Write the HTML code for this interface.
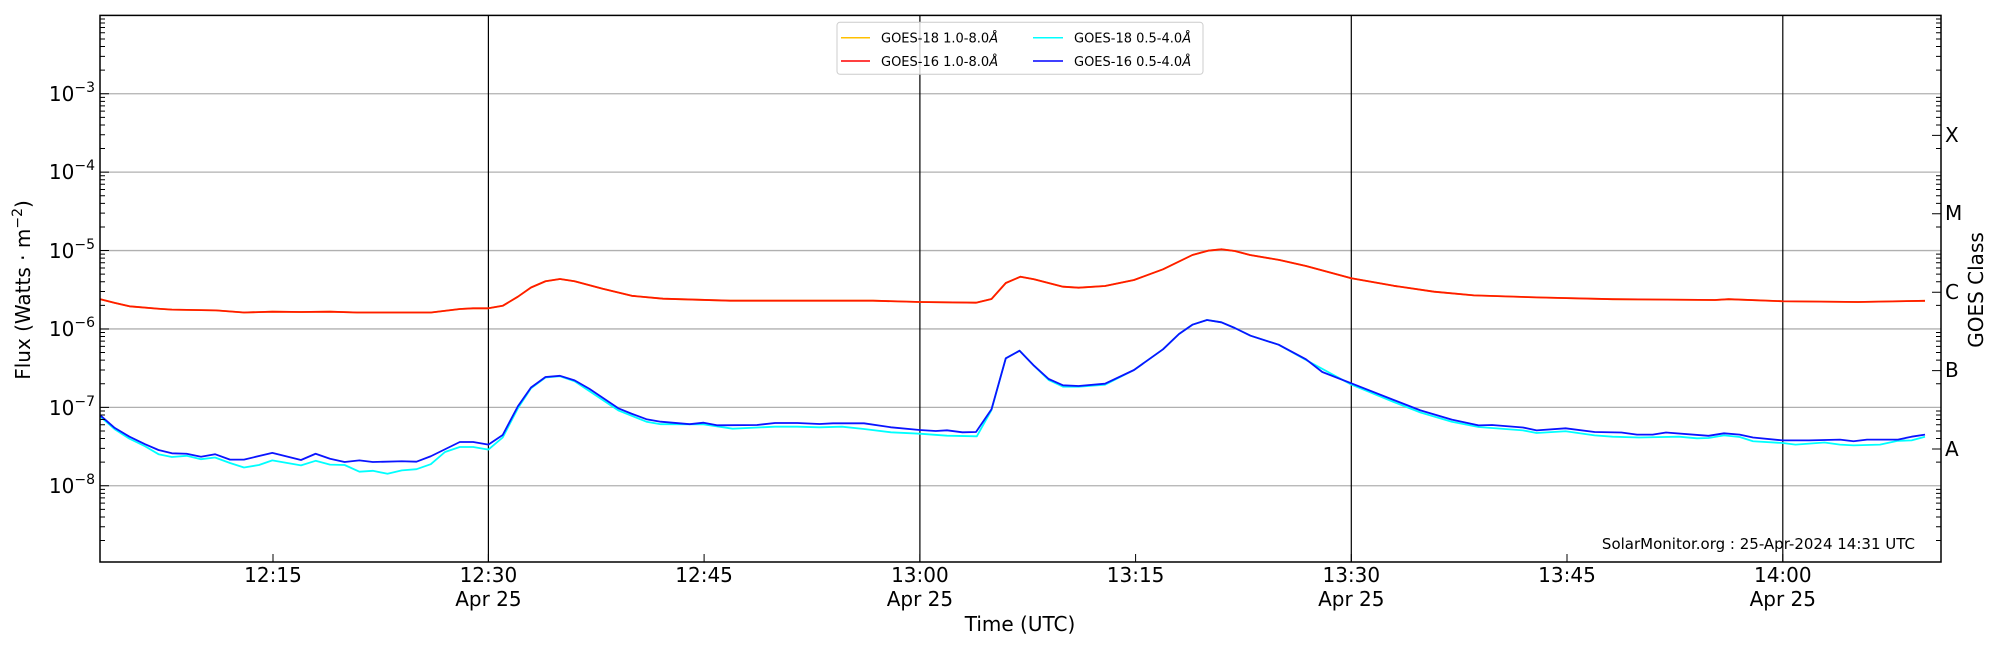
<!DOCTYPE html>
<html><head><meta charset="utf-8"><style>
html,body{margin:0;padding:0;background:#fff;}
svg{display:block;font-family:"DejaVu Sans","Liberation Sans",sans-serif;}
</style></head><body>
<svg width="2000" height="650" viewBox="0 0 2000 650" xmlns="http://www.w3.org/2000/svg">
<rect width="2000" height="650" fill="#fff"/>
<g stroke="#b0b0b0" stroke-width="1.3">
<line x1="100" x2="1941" y1="93.75" y2="93.75"/>
<line x1="100" x2="1941" y1="172.15" y2="172.15"/>
<line x1="100" x2="1941" y1="250.55" y2="250.55"/>
<line x1="100" x2="1941" y1="328.95" y2="328.95"/>
<line x1="100" x2="1941" y1="407.35" y2="407.35"/>
<line x1="100" x2="1941" y1="485.75" y2="485.75"/>
</g>
<g stroke="#000" stroke-width="1.2">
<line x1="488.4" x2="488.4" y1="15.4" y2="562"/>
<line x1="919.9" x2="919.9" y1="15.4" y2="562"/>
<line x1="1351.3" x2="1351.3" y1="15.4" y2="562"/>
<line x1="1782.8" x2="1782.8" y1="15.4" y2="562"/>
</g>
<g fill="none" stroke-width="1.8" stroke-linejoin="round">
<polyline stroke="#ffc000" points="100.4,299.2 114.7,302.9 129.5,306.3 158.5,308.75 171.9,309.6 216,310.4 244,312.5 272.3,311.7 301,312 330,311.7 357,312.5 431,312.5 460,309 473,308.3 488.4,308.3 502.7,305.8 517.9,296.7 531,287.5 545.5,281.25 560,279 574.6,281.25 602.7,288.75 631.7,295.8 663,298.7 730,300.7 873,300.7 919.6,302 976,302.7 991.5,299 1005.8,283 1020.5,276.7 1034,279.3 1063,286.7 1078.6,287.7 1105,286 1134,280 1163,269.3 1192.4,255 1208,250.7 1221.4,249.3 1234.8,251 1250,255 1279.5,260 1306,266 1351.3,278.3 1393.75,285.8 1434,291.7 1474,295.4 1541,297.5 1612.5,299.2 1715,300 1728.6,299.2 1782.6,301.25 1858,302 1925,300.8"/>
<polyline stroke="#ff1a00" points="100.4,299.2 114.7,302.9 129.5,306.3 158.5,308.75 171.9,309.6 216,310.4 244,312.5 272.3,311.7 301,312 330,311.7 357,312.5 431,312.5 460,309 473,308.3 488.4,308.3 502.7,305.8 517.9,296.7 531,287.5 545.5,281.25 560,279 574.6,281.25 602.7,288.75 631.7,295.8 663,298.7 730,300.7 873,300.7 919.6,302 976,302.7 991.5,299 1005.8,283 1020.5,276.7 1034,279.3 1063,286.7 1078.6,287.7 1105,286 1134,280 1163,269.3 1192.4,255 1208,250.7 1221.4,249.3 1234.8,251 1250,255 1279.5,260 1306,266 1351.3,278.3 1393.75,285.8 1434,291.7 1474,295.4 1541,297.5 1612.5,299.2 1715,300 1728.6,299.2 1782.6,301.25 1858,302 1925,300.8"/>
<polyline stroke="#00ffff" points="100.4,416.7 114.7,429.2 129.5,438.75 145,446.25 158.5,454.2 171.9,457 186.6,455.8 201,459.2 215,457.5 230,463 244,467.5 259,465 272.3,460.4 301,465.4 315.6,460.8 330,464.6 344.6,465 359.4,471.7 372.8,470.8 387.5,473.75 401.8,470.4 416.5,469.2 430.8,464.2 445,452 459.8,447 473.2,447 488.4,449.6 502.7,437.5 517.9,408.3 531,388.3 545.5,377.5 560,376.25 574.6,381.25 618.3,410.4 646.4,421.7 660.7,424.2 703.6,424.3 732.6,428.7 775,426.7 797.3,426.7 819.6,427.3 842,426.7 864,429 891,432.3 919.6,433.7 947,435.7 976.8,436.3 991.5,410 1005.8,358.3 1019.6,350.7 1034,365.7 1048.7,380 1063,386.7 1078.6,386.7 1105,384.7 1134,370 1163,349.3 1179,334 1192.4,324.7 1207,320 1221.4,322.3 1234.8,328 1250.5,335.7 1278.6,344.7 1306,360 1351.3,384.6 1393.75,402 1420.5,412.5 1451.8,421.7 1478.6,427 1523,430.4 1536.6,433 1565.6,431.25 1594.6,435.4 1612.5,436.7 1639,437.5 1679,436.7 1697,438.3 1708.5,438 1724,435.4 1739.7,437 1753,441.25 1782.6,443 1795.5,444.6 1824.5,442.5 1840,444.6 1853.6,445.4 1880,444.6 1898,440.8 1911.6,440.4 1925,436.7"/>
<polyline stroke="#0a14ff" points="100.4,415.4 114.7,427.9 129.5,436.7 145,444.2 158.5,450 171.9,453.3 186.6,453.75 201,456.7 215,454.2 230,459.6 244,459.6 272.3,452.9 301,460 315.6,453.75 330,458.75 344.6,462 359.4,460.4 372.8,462 401.8,461.25 416.5,461.7 430.8,456.25 459.8,442 473.2,442 488.4,444.6 502.7,435 517.9,406.25 531,387.5 545.5,377 560,375.8 574.6,380.4 589.3,388.75 618.3,408.3 631.7,413.75 646.4,419.2 660.7,421.7 689.7,424.2 703.6,422.7 717,425.3 757,425 775,423 797.3,423 819.6,424 833,423.3 864,423.3 891,427.3 919.6,430 935.7,431 947,430.3 962.5,432.3 976,432 991.5,409.3 1005.8,358.3 1019.6,350.7 1034,365.7 1048.7,379 1063,385.3 1078.6,386 1105,383.7 1134,370 1163,349.3 1179,334 1192.4,324.7 1207,320 1221.4,322.3 1234.8,328 1250.5,335.7 1278.6,344.7 1306,359.3 1322.3,372 1351.3,383.3 1393.75,400 1420.5,410.4 1451.8,419.6 1478.6,425.4 1492,425 1523,427.5 1536.6,430.4 1565.6,428.3 1594.6,432 1621.4,432.5 1637,434.6 1652.7,434.6 1666,432.5 1708.5,435.8 1724,433.3 1739.7,434.6 1753,437.5 1782.6,440.4 1809,440.4 1840,439.6 1853.6,441.25 1867,439.6 1898,439.6 1911.6,436.7 1925,434.6"/>
</g>
<g stroke="#000" stroke-width="1">
<path d="M100,93.75h9 M100,172.15h9 M100,250.55h9 M100,328.95h9 M100,407.35h9 M100,485.75h9
M100,70.15h5 M100,56.35h5 M100,46.55h5 M100,38.95h5 M100,32.75h5 M100,27.5h5 M100,22.95h5 M100,18.95h5
M100,148.55h5 M100,134.75h5 M100,124.95h5 M100,117.35h5 M100,111.15h5 M100,105.9h5 M100,101.35h5 M100,97.35h5
M100,226.95h5 M100,213.15h5 M100,203.35h5 M100,195.75h5 M100,189.55h5 M100,184.3h5 M100,179.75h5 M100,175.75h5
M100,305.35h5 M100,291.55h5 M100,281.75h5 M100,274.15h5 M100,267.95h5 M100,262.7h5 M100,258.15h5 M100,254.15h5
M100,383.75h5 M100,369.95h5 M100,360.15h5 M100,352.55h5 M100,346.35h5 M100,341.1h5 M100,336.55h5 M100,332.55h5
M100,462.15h5 M100,448.35h5 M100,438.55h5 M100,430.95h5 M100,424.75h5 M100,419.5h5 M100,414.95h5 M100,410.95h5
M100,540.55h5 M100,526.75h5 M100,516.95h5 M100,509.35h5 M100,503.15h5 M100,497.9h5 M100,493.35h5 M100,489.35h5
M1941,135.4h-9 M1941,213.8h-9 M1941,292.2h-9 M1941,370.6h-9 M1941,449h-9
M1941,70.15h-5 M1941,56.35h-5 M1941,46.55h-5 M1941,38.95h-5 M1941,32.75h-5 M1941,27.5h-5 M1941,22.95h-5 M1941,18.95h-5
M1941,148.55h-5 M1941,124.95h-5 M1941,117.35h-5 M1941,111.15h-5 M1941,105.9h-5 M1941,101.35h-5 M1941,97.35h-5
M1941,226.95h-5 M1941,203.35h-5 M1941,195.75h-5 M1941,189.55h-5 M1941,184.3h-5 M1941,179.75h-5 M1941,175.75h-5
M1941,305.35h-5 M1941,281.75h-5 M1941,274.15h-5 M1941,267.95h-5 M1941,262.7h-5 M1941,258.15h-5 M1941,254.15h-5
M1941,383.75h-5 M1941,360.15h-5 M1941,352.55h-5 M1941,346.35h-5 M1941,341.1h-5 M1941,336.55h-5 M1941,332.55h-5
M1941,462.15h-5 M1941,438.55h-5 M1941,430.95h-5 M1941,424.75h-5 M1941,419.5h-5 M1941,414.95h-5 M1941,410.95h-5
M1941,540.55h-5 M1941,526.75h-5 M1941,516.95h-5 M1941,509.35h-5 M1941,503.15h-5 M1941,497.9h-5 M1941,493.35h-5 M1941,489.35h-5
M273,562v-8 M488.4,562v-8 M704.1,562v-8 M919.9,562v-8 M1135.6,562v-8 M1351.3,562v-8 M1567,562v-8 M1782.8,562v-8
"/>
</g>
<rect x="100" y="15.4" width="1841" height="546.6" fill="none" stroke="#000" stroke-width="1.5"/>
<g font-size="20" text-anchor="end" fill="#000">
<text x="95" y="101">10<tspan font-size="14" dy="-9">−3</tspan></text>
<text x="95" y="179">10<tspan font-size="14" dy="-9">−4</tspan></text>
<text x="95" y="258">10<tspan font-size="14" dy="-9">−5</tspan></text>
<text x="95" y="336">10<tspan font-size="14" dy="-9">−6</tspan></text>
<text x="95" y="415">10<tspan font-size="14" dy="-9">−7</tspan></text>
<text x="95" y="493">10<tspan font-size="14" dy="-9">−8</tspan></text>
</g>
<g font-size="20" fill="#000">
<text x="1945" y="142">X</text>
<text x="1945" y="220">M</text>
<text x="1945" y="299">C</text>
<text x="1945" y="377">B</text>
<text x="1945" y="456">A</text>
</g>
<text font-size="20" text-anchor="middle" transform="translate(1983,290) rotate(-90)">GOES Class</text>
<text font-size="20" text-anchor="middle" transform="translate(30,290) rotate(-90)">Flux (Watts · m<tspan font-size="14" dy="-8">−2</tspan><tspan dy="8">)</tspan></text>
<g font-size="20" text-anchor="middle" fill="#000">
<text x="273" y="582">12:15</text>
<text x="488.4" y="582">12:30</text><text x="488.4" y="606">Apr 25</text>
<text x="704.1" y="582">12:45</text>
<text x="919.9" y="582">13:00</text><text x="919.9" y="606">Apr 25</text>
<text x="1135.6" y="582">13:15</text>
<text x="1351.3" y="582">13:30</text><text x="1351.3" y="606">Apr 25</text>
<text x="1567" y="582">13:45</text>
<text x="1782.8" y="582">14:00</text><text x="1782.8" y="606">Apr 25</text>
<text x="1020" y="631">Time (UTC)</text>
</g>
<text x="1915" y="549" font-size="15" text-anchor="end">SolarMonitor.org : 25-Apr-2024 14:31 UTC</text>
<rect x="837" y="22.3" width="366" height="52" rx="3" fill="#fff" fill-opacity="0.8" stroke="#ccc" stroke-width="1"/>
<g stroke-width="1.5">
<line x1="841" x2="870" y1="37.7" y2="37.7" stroke="#ffc000"/>
<line x1="841" x2="870" y1="61" y2="61" stroke="#ff0000"/>
<line x1="1033" x2="1063" y1="37.7" y2="37.7" stroke="#00ffff"/>
<line x1="1033" x2="1063" y1="61" y2="61" stroke="#0000ff"/>
</g>
<g font-size="13" fill="#000">
<text x="881" y="42.5">GOES-18 1.0-8.0<tspan font-style="italic">Å</tspan></text>
<text x="881" y="66">GOES-16 1.0-8.0<tspan font-style="italic">Å</tspan></text>
<text x="1074" y="42.5">GOES-18 0.5-4.0<tspan font-style="italic">Å</tspan></text>
<text x="1074" y="66">GOES-16 0.5-4.0<tspan font-style="italic">Å</tspan></text>
</g>
</svg>
</body></html>
